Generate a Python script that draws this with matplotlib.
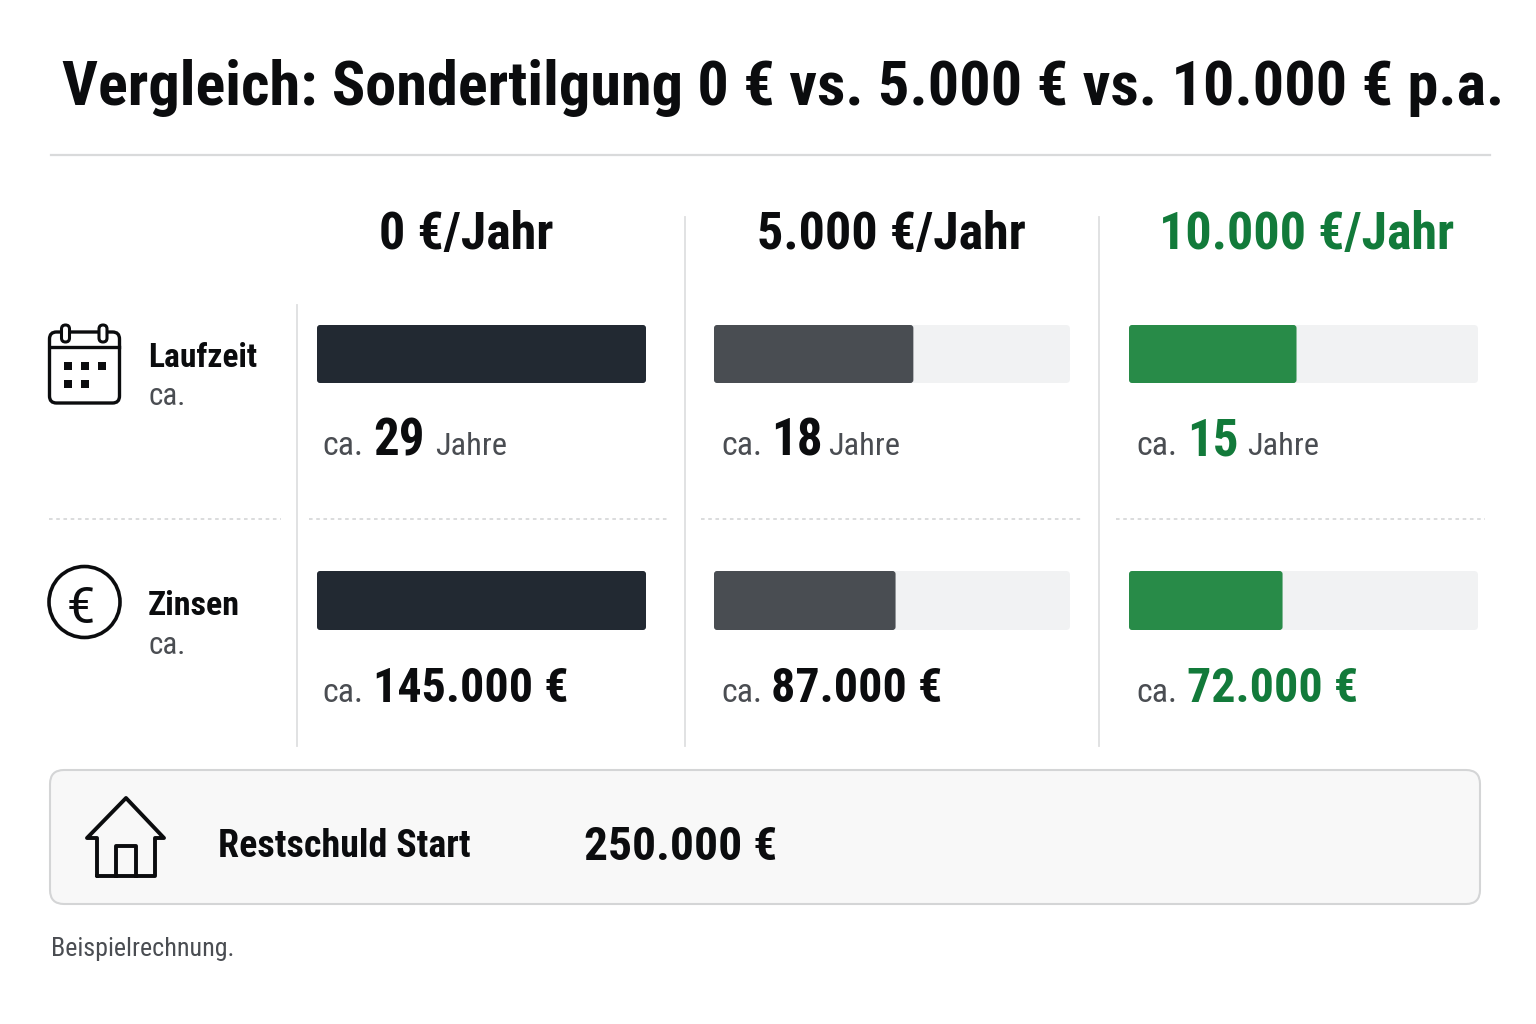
import matplotlib
matplotlib.use("Agg")
import matplotlib.pyplot as plt
from matplotlib.patches import FancyBboxPatch, Rectangle, Circle
from matplotlib.path import Path
from matplotlib.patches import PathPatch

FAM = ['Roboto Condensed', 'Roboto', 'DejaVu Sans']

title = "Vergleich: Sondertilgung 0 € vs. 5.000 € vs. 10.000 € p.a."
columns = ["0 €/Jahr", "5.000 €/Jahr", "10.000 €/Jahr"]
laufzeit_share = [100, 56, 48]
zinsen_share = [100, 51, 44]
laufzeit_labels = ["29", "18", "15"]
zinsen_labels = ["145.000 €", "87.000 €", "72.000 €"]
row_names = ["Laufzeit", "Zinsen"]
start_label = "Restschuld Start"
start_value = "250.000 €"
note = "Beispielrechnung."

DARK = ["#222932", "#494d52", "#288b48"]
TXT = ["#0b0c0e", "#0b0c0e", "#127a3a"]
GREY = "#4a4d52"
LINE = "#dedfe0"

fig = plt.figure(figsize=(15.36, 10.24), dpi=100, facecolor="white")
ax = fig.add_axes([0, 0, 1, 1])
ax.set_xlim(0, 1536)
ax.set_ylim(1024, 0)
ax.axis("off")


def T(x, y, s, px, color="#0b0c0e", bold=False, ha="left", va="baseline"):
    return ax.text(x, y, s, fontsize=px * 0.72, color=color, family=FAM,
                   fontweight="bold" if bold else "normal", ha=ha, va=va)


def rbox(x0, y0, x1, y1, r, fc, ec="none", lw=0, z=2):
    p = FancyBboxPatch((x0 + r, y0 + r), x1 - x0 - 2 * r, y1 - y0 - 2 * r,
                       boxstyle=f"round,pad={r},rounding_size={r}",
                       fc=fc, ec=ec, lw=lw, zorder=z)
    ax.add_patch(p)
    return p


# title and rule
T(62, 105, title, 62.2, bold=True)
ax.plot([51, 1490], [155, 155], color="#d9dadb", lw=1.6)

# column heads
head_x = [466, 891, 1307]
for x, s, c in zip(head_x, columns, TXT):
    T(x, 249, s, 52, color=c, bold=True, ha="center")

# grid lines
for x in [297, 685, 1098.5]:
    top = 305 if x == 297 else 217
    ax.plot([x, x], [top, 746], color=LINE, lw=1.3)
for a, b in [(49, 281), (309, 669), (701, 1083), (1116, 1485)]:
    ax.plot([a, b], [519, 519], color="#d8d9da", lw=1.3, dashes=(2, 2))

# bars
tracks = [(317, 646), (714, 1070), (1129, 1478)]
rows = [(325, 383, laufzeit_share), (571, 630, zinsen_share)]
for y0, y1, shares in rows:
    for (x0, x1), share, col in zip(tracks, shares, DARK):
        rbox(x0, y0, x1, y1, 4, "#f1f2f3", z=2)
        rbox(x0, y0, x0 + (x1 - x0) * share / 100, y1, 3, col, z=3)

# value labels
ca_x = [322, 721, 1136]
num_x = [373, 771, 1187]
unit_x = [435, 828, 1247]
for i in range(3):
    T(ca_x[i], 455, "ca.", 34, color=GREY)
    T(num_x[i], 455, laufzeit_labels[i], 51, color=TXT[i], bold=True)
    T(unit_x[i], 455, "Jahre", 32.5, color=GREY)
    T(ca_x[i], 702, "ca.", 34, color=GREY)
    T(num_x[i], 702, zinsen_labels[i], 48, color=TXT[i], bold=True)

# row labels
T(148, 367, row_names[0], 33.5, bold=True)
T(148, 405, "ca.", 31, color=GREY)
T(148, 615, row_names[1], 34, bold=True)
T(148, 654, "ca.", 31, color=GREY)

# calendar icon
K = "#0b0c0e"
rbox(49.5, 332, 119.5, 403, 7, "none", ec=K, lw=2.4, z=4)
ax.plot([50, 119], [347, 347], color=K, lw=2.4, zorder=4)
for cx in [65.5, 103]:
    rbox(cx - 4, 325, cx + 4, 342, 4, "white", ec=K, lw=2.2, z=5)
for cx, cy in [(68, 366), (85, 366), (102, 366), (68, 384), (85, 384)]:
    ax.add_patch(Rectangle((cx - 4, cy - 4), 8, 8, fc=K, ec="none", zorder=4))

# euro icon
ax.add_patch(Circle((84.5, 602), 35.5, fc="none", ec=K, lw=2.6, zorder=4))
ax.text(81, 604, "€", fontsize=36, color=K, family=['Roboto', 'DejaVu Sans'],
        ha="center", va="center_baseline")

# summary box
rbox(50, 770, 1480, 904, 14, "#f8f8f8", ec="#d4d5d6", lw=1.5, z=1)
house = Path(
    [(97, 876), (97, 838), (87, 838), (126, 798), (164, 838), (155, 838),
     (155, 876), (97, 876),
     (116, 876), (116, 846), (136, 846), (136, 876)],
    [Path.MOVETO, Path.LINETO, Path.LINETO, Path.LINETO, Path.LINETO, Path.LINETO,
     Path.LINETO, Path.LINETO,
     Path.MOVETO, Path.LINETO, Path.LINETO, Path.LINETO])
ax.add_patch(PathPatch(house, fc="none", ec=K, lw=2.8, joinstyle="round",
                       capstyle="round", zorder=4))
T(218, 857, start_label, 38, bold=True)
T(584, 860, start_value, 47.5, bold=True)

T(51, 956, note, 26, color=GREY)

fig.savefig("out.png", dpi=100, facecolor="white")
